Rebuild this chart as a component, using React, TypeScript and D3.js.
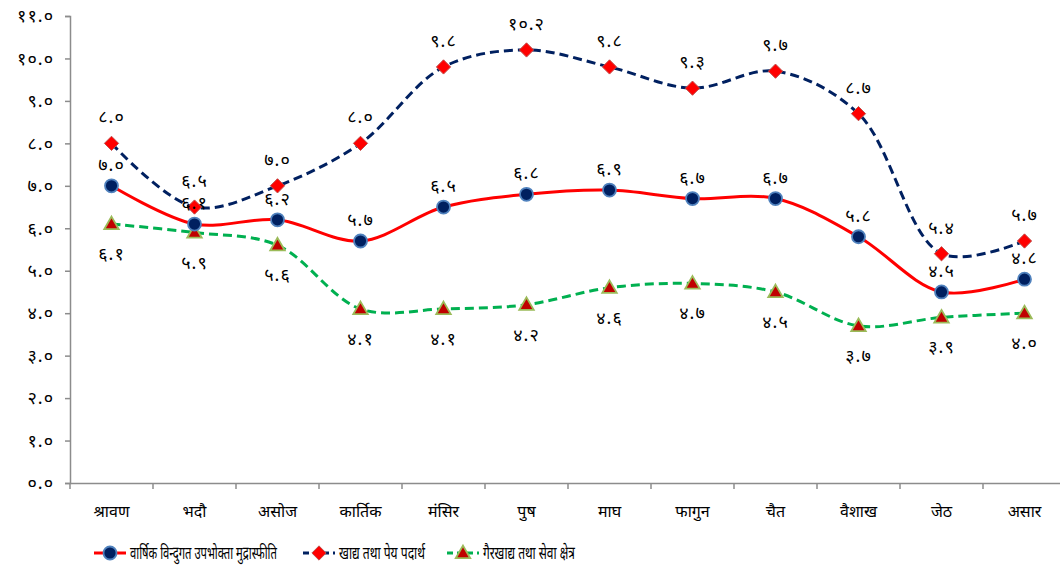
import React, { useRef, useEffect } from 'react';
import * as d3 from 'd3';

const months = ['श्रावण', 'भदौ', 'असोज', 'कार्तिक', 'मंसिर', 'पुष', 'माघ', 'फागुन', 'चैत', 'वैशाख', 'जेठ', 'असार'];
const overall = [7.0, 6.1, 6.2, 5.7, 6.5, 6.8, 6.9, 6.7, 6.7, 5.8, 4.5, 4.8];
const food = [8.0, 6.5, 7.0, 8.0, 9.8, 10.2, 9.8, 9.3, 9.7, 8.7, 5.4, 5.7];
const nonFood = [6.1, 5.9, 5.6, 4.1, 4.1, 4.2, 4.6, 4.7, 4.5, 3.7, 3.9, 4.0];
const yTicks = [0, 1, 2, 3, 4, 5, 6, 7, 8, 9, 10, 11];
const legendNames = ['वार्षिक विन्दुगत उपभोक्ता मुद्रास्फीति', 'खाद्य तथा पेय पदार्थ', 'गैरखाद्य तथा सेवा क्षेत्र'];

const devDigits = '०१२३४५६७८९';
const toNepali = (n: number) => n.toFixed(1).replace(/[0-9]/g, (c) => devDigits[+c]);

const W = 1060;
const H = 579;
const FONT = '"Noto Sans Devanagari", "Noto Sans", "DejaVu Sans", sans-serif';

const App: React.FC = () => {
    const svgRef = useRef<SVGSVGElement | null>(null);

    useEffect(() => {
        const svg = d3.select(svgRef.current);
        svg.selectAll('*').remove();

        const left = 70, right = 1066, top = 16, bottom = 483;
        const x = d3.scaleBand().domain(months).range([left, right]);
        const y = d3.scaleLinear().domain([0, 11]).range([bottom, top]);
        const cx = (i: number) => (x(months[i]) as number) + x.bandwidth() / 2;

        // axes
        const yAxis = svg.append('g').attr('transform', `translate(${left},0)`)
            .call(d3.axisLeft(y).tickValues(yTicks).tickSize(5).tickFormat((d) => toNepali(+d)));
        yAxis.select('.domain').attr('stroke', '#8c8c8c').attr('stroke-width', 1.5);
        yAxis.selectAll('.tick line').attr('stroke', '#8c8c8c').attr('stroke-width', 1.5);
        yAxis.selectAll('.tick text').attr('font-size', 18).attr('font-family', FONT)
            .attr('fill', '#000').attr('x', -16).attr('letter-spacing', 1);

        const xAxis = svg.append('g').attr('transform', `translate(0,${bottom})`)
            .call(d3.axisBottom(x).tickSize(0).tickSizeOuter(0));
        xAxis.select('.domain').attr('stroke', '#8c8c8c').attr('stroke-width', 1.5);
        xAxis.selectAll('.tick text').attr('font-size', 16).attr('font-family', FONT)
            .attr('fill', '#000').attr('dy', 0).attr('y', 34);
        // boundary ticks between categories
        const bounds = d3.range(months.length + 1).map((i) => left + i * x.bandwidth());
        svg.append('g').selectAll('line').data(bounds).enter().append('line')
            .attr('x1', (d) => d).attr('x2', (d) => d)
            .attr('y1', bottom).attr('y2', bottom + 6)
            .attr('stroke', '#8c8c8c').attr('stroke-width', 1.5);

        const line = d3.line<number>()
            .x((_, i) => cx(i))
            .y((d) => y(d))
            .curve(d3.curveCatmullRom.alpha(0.5));

        const series = [
            { data: nonFood, color: '#00b050', dash: '9,5' },
            { data: food, color: '#002060', dash: '9,5' },
            { data: overall, color: '#ff0000', dash: null },
        ];
        series.forEach((s) => {
            svg.append('path').attr('d', line(s.data) as string)
                .attr('fill', 'none').attr('stroke', s.color).attr('stroke-width', 3)
                .attr('stroke-dasharray', s.dash);
        });

        const diamond = d3.symbol().type(d3.symbolDiamond2).size(130);
        const tri = d3.symbol().type(d3.symbolTriangle2).size(150);
        const drawCircle = (g: any, px: number, py: number) =>
            g.append('circle').attr('cx', px).attr('cy', py).attr('r', 6.5)
                .attr('fill', '#002060').attr('stroke', '#4f81bd').attr('stroke-width', 1.8);
        const drawDiamond = (g: any, px: number, py: number) =>
            g.append('path').attr('d', diamond()).attr('transform', `translate(${px},${py})`)
                .attr('fill', '#ff0000').attr('stroke', '#c0504d').attr('stroke-width', 1);
        const drawTri = (g: any, px: number, py: number) =>
            g.append('path').attr('d', tri()).attr('transform', `translate(${px},${py + 1})`)
                .attr('fill', '#c00000').attr('stroke', '#9bbb59').attr('stroke-width', 1.8);

        const marks = svg.append('g');
        nonFood.forEach((v, i) => drawTri(marks, cx(i), y(v)));
        food.forEach((v, i) => drawDiamond(marks, cx(i), y(v)));
        overall.forEach((v, i) => drawCircle(marks, cx(i), y(v)));

        const labels = svg.append('g').attr('font-family', FONT).attr('font-size', 18)
            .attr('letter-spacing', 1).attr('text-anchor', 'middle').attr('fill', '#000');
        food.forEach((v, i) => labels.append('text').attr('x', cx(i)).attr('y', y(v) - 20).text(toNepali(v)));
        overall.forEach((v, i) => labels.append('text').attr('x', cx(i)).attr('y', y(v) - 15).text(toNepali(v)));
        nonFood.forEach((v, i) => labels.append('text').attr('x', cx(i)).attr('y', y(v) + 36).text(toNepali(v)));

        // legend
        const ly = 553;
        const legend = svg.append('g');
        const items = [
            { x0: 94, color: '#ff0000', dash: null, mark: drawCircle, len: 147 },
            { x0: 303, color: '#002060', dash: '6,4', mark: drawDiamond, len: 86 },
            { x0: 447, color: '#00b050', dash: '6,4', mark: drawTri, len: 92 },
        ];
        items.forEach((it, i) => {
            legend.append('line').attr('x1', it.x0).attr('x2', it.x0 + 32).attr('y1', ly).attr('y2', ly)
                .attr('stroke', it.color).attr('stroke-width', 3).attr('stroke-dasharray', it.dash);
            it.mark(legend, it.x0 + 16, ly);
            const t = legend.append('text')
                .attr('font-family', FONT).attr('font-size', 18).attr('fill', '#000')
                .text(legendNames[i]);
            const natural = (t.node() as SVGTextElement).getComputedTextLength() || it.len;
            t.attr('transform', `translate(${it.x0 + 36},${ly + 6}) scale(${it.len / natural},1)`);
        });
    }, []);

    return (
        <svg ref={svgRef} width={W} height={H} style={{ position: 'absolute', left: 0, top: 0, background: '#fff' }} />
    );
};

export default App;
